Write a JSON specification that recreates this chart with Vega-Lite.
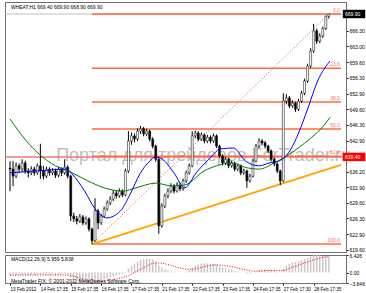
{
 "$schema": "https://vega.github.io/schema/vega-lite/v6.json",
 "padding": {"left": 3, "top": 1, "right": 0, "bottom": 0},
 "background": "white",
 "spacing": 3,
 "bounds": "flush",
 "config": {
  "view": {"stroke": "#707070"},
  "axis": {"labelFont": "Liberation Sans", "labelFontSize": 5, "labelColor": "#000", "domainColor": "#707070", "tickColor": "#000", "tickSize": 2, "grid": false, "labelPadding": 1},
  "text": {"font": "Liberation Sans"}
 },
 "datasets": {
  "bars": [
{"i":0,"o":637.0,"h":638.5,"l":632.1,"c":636.8,"m":-1.2},
{"i":1,"o":636.8,"h":638.5,"l":633.2,"c":635.3,"m":-1.0},
{"i":2,"o":635.3,"h":638.2,"l":634.9,"c":637.5,"m":-1.1},
{"i":3,"o":637.5,"h":638.0,"l":636.0,"c":636.8,"m":-0.9},
{"i":4,"o":636.8,"h":638.9,"l":636.2,"c":638.1,"m":-0.8},
{"i":5,"o":638.1,"h":638.6,"l":635.8,"c":636.4,"m":-1.0},
{"i":6,"o":636.4,"h":637.0,"l":635.0,"c":636.0,"m":-1.1},
{"i":7,"o":636.0,"h":637.4,"l":635.5,"c":636.8,"m":-0.9},
{"i":8,"o":636.8,"h":637.3,"l":635.4,"c":636.0,"m":-1.0},
{"i":9,"o":636.0,"h":638.0,"l":635.6,"c":637.5,"m":-0.8},
{"i":10,"o":637.5,"h":642.2,"l":634.7,"c":636.4,"m":-0.7},
{"i":11,"o":636.4,"h":637.5,"l":634.6,"c":635.3,"m":-0.9},
{"i":12,"o":635.3,"h":637.3,"l":634.9,"c":636.8,"m":-0.8},
{"i":13,"o":636.8,"h":637.2,"l":635.4,"c":636.0,"m":-0.9},
{"i":14,"o":636.0,"h":637.0,"l":635.5,"c":636.4,"m":-0.8},
{"i":15,"o":636.4,"h":636.9,"l":634.9,"c":635.5,"m":-0.9},
{"i":16,"o":635.5,"h":637.3,"l":635.1,"c":636.8,"m":-0.8},
{"i":17,"o":636.8,"h":637.2,"l":635.3,"c":636.0,"m":-0.7},
{"i":18,"o":636.0,"h":638.9,"l":635.6,"c":637.2,"m":-0.6},
{"i":19,"o":637.2,"h":637.6,"l":634.8,"c":635.3,"m":-0.8},
{"i":20,"o":635.3,"h":635.6,"l":625.7,"c":626.8,"m":-1.8},
{"i":21,"o":626.8,"h":627.5,"l":625.5,"c":626.2,"m":-2.6},
{"i":22,"o":626.2,"h":626.8,"l":625.0,"c":625.7,"m":-3.1},
{"i":23,"o":625.7,"h":627.2,"l":625.3,"c":626.6,"m":-3.4},
{"i":24,"o":626.6,"h":627.0,"l":624.8,"c":625.3,"m":-3.6},
{"i":25,"o":625.3,"h":626.7,"l":624.9,"c":626.2,"m":-3.7},
{"i":26,"o":626.2,"h":626.5,"l":623.5,"c":624.0,"m":-3.8},
{"i":27,"o":624.0,"h":624.3,"l":620.8,"c":621.5,"m":-3.8},
{"i":28,"o":621.5,"h":630.6,"l":621.3,"c":627.9,"m":-3.4},
{"i":29,"o":627.9,"h":628.3,"l":624.0,"c":625.3,"m":-3.3},
{"i":30,"o":625.3,"h":627.3,"l":624.9,"c":626.8,"m":-3.0},
{"i":31,"o":626.8,"h":628.8,"l":626.4,"c":628.3,"m":-2.6},
{"i":32,"o":628.3,"h":630.1,"l":627.9,"c":629.6,"m":-2.2},
{"i":33,"o":629.6,"h":631.0,"l":629.1,"c":630.4,"m":-1.8},
{"i":34,"o":630.4,"h":632.3,"l":630.0,"c":631.7,"m":-1.4},
{"i":35,"o":631.7,"h":632.2,"l":630.5,"c":631.1,"m":-1.1},
{"i":36,"o":631.1,"h":632.7,"l":630.7,"c":632.1,"m":-0.8},
{"i":37,"o":632.1,"h":632.5,"l":630.8,"c":631.3,"m":-0.6},
{"i":38,"o":631.3,"h":636.9,"l":631.0,"c":636.4,"m":0.2},
{"i":39,"o":636.4,"h":644.9,"l":636.0,"c":642.8,"m":1.5},
{"i":40,"o":642.8,"h":644.6,"l":642.0,"c":643.9,"m":2.5},
{"i":41,"o":643.9,"h":644.4,"l":642.5,"c":643.2,"m":3.3},
{"i":42,"o":643.2,"h":645.5,"l":642.8,"c":644.9,"m":4.0},
{"i":43,"o":644.9,"h":646.0,"l":644.3,"c":645.4,"m":4.6},
{"i":44,"o":645.4,"h":645.8,"l":643.8,"c":644.3,"m":4.9},
{"i":45,"o":644.3,"h":645.4,"l":643.9,"c":644.9,"m":5.1},
{"i":46,"o":644.9,"h":645.2,"l":642.7,"c":643.2,"m":5.0},
{"i":47,"o":643.2,"h":643.6,"l":641.2,"c":641.7,"m":4.7},
{"i":48,"o":641.7,"h":642.0,"l":638.4,"c":638.9,"m":4.1},
{"i":49,"o":638.9,"h":639.2,"l":623.0,"c":624.7,"m":2.6},
{"i":50,"o":624.7,"h":629.5,"l":624.3,"c":628.9,"m":1.8},
{"i":51,"o":628.9,"h":631.6,"l":628.5,"c":631.1,"m":1.2},
{"i":52,"o":631.1,"h":632.7,"l":630.6,"c":632.1,"m":0.7},
{"i":53,"o":632.1,"h":633.8,"l":631.7,"c":633.2,"m":0.4},
{"i":54,"o":633.2,"h":633.6,"l":631.6,"c":632.1,"m":0.1},
{"i":55,"o":632.1,"h":634.0,"l":631.8,"c":633.4,"m":0.0},
{"i":56,"o":633.4,"h":633.9,"l":632.1,"c":632.6,"m":-0.1},
{"i":57,"o":632.6,"h":634.8,"l":632.2,"c":634.3,"m":0.0},
{"i":58,"o":634.3,"h":636.5,"l":633.9,"c":636.0,"m":0.3},
{"i":59,"o":636.0,"h":638.0,"l":635.6,"c":637.5,"m":0.8},
{"i":60,"o":637.5,"h":644.9,"l":637.2,"c":643.9,"m":1.8},
{"i":61,"o":643.9,"h":645.0,"l":643.4,"c":644.5,"m":2.6},
{"i":62,"o":644.5,"h":644.9,"l":642.8,"c":643.2,"m":3.0},
{"i":63,"o":643.2,"h":644.6,"l":642.8,"c":644.1,"m":3.3},
{"i":64,"o":644.1,"h":644.4,"l":642.3,"c":642.8,"m":3.4},
{"i":65,"o":642.8,"h":644.1,"l":642.4,"c":643.6,"m":3.4},
{"i":66,"o":643.6,"h":644.0,"l":642.3,"c":642.8,"m":3.3},
{"i":67,"o":642.8,"h":644.4,"l":642.4,"c":643.9,"m":3.2},
{"i":68,"o":643.9,"h":644.2,"l":641.3,"c":641.7,"m":2.9},
{"i":69,"o":641.7,"h":642.0,"l":639.2,"c":639.6,"m":2.4},
{"i":70,"o":639.6,"h":640.0,"l":637.6,"c":638.1,"m":1.9},
{"i":71,"o":638.1,"h":639.4,"l":637.7,"c":638.9,"m":1.6},
{"i":72,"o":638.9,"h":639.2,"l":637.0,"c":637.5,"m":1.2},
{"i":73,"o":637.5,"h":638.6,"l":637.1,"c":638.1,"m":1.0},
{"i":74,"o":638.1,"h":638.4,"l":636.3,"c":636.8,"m":0.6},
{"i":75,"o":636.8,"h":637.9,"l":636.4,"c":637.5,"m":0.4},
{"i":76,"o":637.5,"h":637.8,"l":635.5,"c":636.0,"m":0.1},
{"i":77,"o":636.0,"h":636.9,"l":635.6,"c":636.4,"m":0.0},
{"i":78,"o":636.4,"h":636.7,"l":632.8,"c":634.3,"m":-0.4},
{"i":79,"o":634.3,"h":635.8,"l":633.9,"c":635.3,"m":-0.4},
{"i":80,"o":635.3,"h":639.0,"l":635.0,"c":638.5,"m":0.0},
{"i":81,"o":638.5,"h":642.2,"l":638.2,"c":641.7,"m":0.5},
{"i":82,"o":641.7,"h":643.4,"l":641.3,"c":642.8,"m":0.9},
{"i":83,"o":642.8,"h":643.2,"l":641.9,"c":642.4,"m":1.1},
{"i":84,"o":642.4,"h":642.8,"l":641.2,"c":641.7,"m":1.2},
{"i":85,"o":641.7,"h":642.0,"l":640.2,"c":640.7,"m":1.1},
{"i":86,"o":640.7,"h":641.0,"l":638.4,"c":638.9,"m":0.9},
{"i":87,"o":638.9,"h":639.3,"l":637.4,"c":637.9,"m":0.6},
{"i":88,"o":637.9,"h":638.2,"l":635.9,"c":636.4,"m":0.3},
{"i":89,"o":636.4,"h":636.7,"l":633.4,"c":634.3,"m":0.0},
{"i":90,"o":634.3,"h":653.0,"l":634.0,"c":651.3,"m":1.5},
{"i":91,"o":651.3,"h":652.8,"l":650.6,"c":652.0,"m":2.6},
{"i":92,"o":652.0,"h":652.4,"l":649.8,"c":650.3,"m":3.2},
{"i":93,"o":650.3,"h":651.5,"l":649.9,"c":650.9,"m":3.7},
{"i":94,"o":650.9,"h":651.2,"l":649.0,"c":649.6,"m":3.9},
{"i":95,"o":649.6,"h":651.8,"l":649.2,"c":651.3,"m":4.2},
{"i":96,"o":651.3,"h":653.5,"l":650.9,"c":653.0,"m":4.5},
{"i":97,"o":653.0,"h":656.1,"l":652.6,"c":655.6,"m":4.9},
{"i":98,"o":655.6,"h":659.3,"l":655.2,"c":658.8,"m":5.4},
{"i":99,"o":658.8,"h":662.6,"l":658.4,"c":662.0,"m":5.9},
{"i":100,"o":662.0,"h":667.8,"l":661.6,"c":666.3,"m":6.3},
{"i":101,"o":666.3,"h":666.8,"l":663.5,"c":664.1,"m":6.43},
{"i":102,"o":664.1,"h":665.8,"l":663.7,"c":665.2,"m":6.3},
{"i":103,"o":665.2,"h":667.2,"l":664.8,"c":666.8,"m":6.1},
{"i":104,"o":666.8,"h":669.6,"l":666.5,"c":669.4,"m":6.0},
{"i":105,"o":669.4,"h":669.9,"l":668.9,"c":669.9,"m":5.96}
  ],
  "blue": [
{"i":0,"p":636.0},{"i":8.6,"p":636.4},{"i":18.8,"p":636.8},{"i":20.4,"p":635.8},{"i":24.6,"p":632.1},{"i":27.8,"p":628.5},{"i":31.9,"p":626.4},{"i":36.4,"p":627.9},{"i":39.6,"p":631.5},{"i":42.8,"p":635.8},{"i":46,"p":638.5},{"i":47.9,"p":639.4},{"i":50.2,"p":638.9},{"i":54,"p":636.0},{"i":57.5,"p":632.8},{"i":61.3,"p":636.0},{"i":65.5,"p":638.9},{"i":69.3,"p":641.1},{"i":73.5,"p":641.3},{"i":77.6,"p":638.5},{"i":82.1,"p":637.5},{"i":85.3,"p":638.1},{"i":88.5,"p":638.5},{"i":92.7,"p":641.3},{"i":94.9,"p":644.3},{"i":98.1,"p":649.8},{"i":101.3,"p":655.6},{"i":105.4,"p":659.9}
  ],
  "green": [
{"i":0,"p":647.5},{"i":5.4,"p":642.8},{"i":9.6,"p":640.0},{"i":15,"p":637.5},{"i":19.2,"p":636.4},{"i":25.6,"p":634.3},{"i":31,"p":632.8},{"i":37.4,"p":632.1},{"i":41.5,"p":632.8},{"i":47.9,"p":633.8},{"i":53.4,"p":633.2},{"i":57.5,"p":633.4},{"i":63.9,"p":636.4},{"i":68,"p":637.5},{"i":73.5,"p":638.1},{"i":77.3,"p":637.2},{"i":82.1,"p":636.8},{"i":86.9,"p":638.1},{"i":90.1,"p":639.2},{"i":94.9,"p":641.3},{"i":99,"p":643.4},{"i":103.5,"p":646.2},{"i":105.4,"p":647.9}
  ],
  "signal": [
{"i":0,"v":-1.0},{"i":8,"v":-0.9},{"i":16,"v":-0.9},{"i":20,"v":-1.1},{"i":22,"v":-1.7},{"i":24,"v":-2.3},{"i":26,"v":-2.8},{"i":28,"v":-3.2},{"i":30,"v":-3.3},{"i":32,"v":-3.0},{"i":34,"v":-2.6},{"i":36,"v":-2.1},{"i":38,"v":-1.5},{"i":40,"v":-0.6},{"i":42,"v":0.6},{"i":44,"v":1.8},{"i":46,"v":2.9},{"i":48,"v":3.5},{"i":50,"v":3.4},{"i":52,"v":2.9},{"i":54,"v":2.3},{"i":56,"v":1.7},{"i":58,"v":1.2},{"i":60,"v":1.2},{"i":62,"v":1.6},{"i":64,"v":2.2},{"i":66,"v":2.6},{"i":68,"v":2.8},{"i":70,"v":2.6},{"i":72,"v":2.3},{"i":74,"v":1.9},{"i":76,"v":1.4},{"i":78,"v":0.9},{"i":80,"v":0.5},{"i":82,"v":0.5},{"i":84,"v":0.7},{"i":86,"v":0.8},{"i":88,"v":0.7},{"i":90,"v":0.7},{"i":92,"v":1.5},{"i":94,"v":2.3},{"i":96,"v":3.1},{"i":98,"v":3.9},{"i":100,"v":4.7},{"i":102,"v":5.3},{"i":104,"v":5.7},{"i":105,"v":5.84}
  ],
  "fib": [
{"name":"0.0","p":669.9,"t0":27,"t1":109},{"name":"23.6","p":658.31,"t0":27,"t1":109},{"name":"38.2","p":651.14,"t0":27,"t1":109},{"name":"50.0","p":645.35,"t0":27,"t1":109},{"name":"61.8","p":639.56,"t0":27,"t1":109},{"name":"100.0","p":620.8,"t0":27,"t1":109}
  ]
 },
 "vconcat": [
  {
   "width": 341,
   "height": 250,
   "resolve": {"axis": {"x": "independent", "y": "independent"}},
   "layer": [
    {
     "data": {"values": [{"t": "Портал для трейдеров ForTrader.ru", "i": 15.2, "p": 639.6}]},
     "mark": {"type": "text", "fontSize": 18, "color": "#808080", "opacity": 0.5, "align": "left", "baseline": "middle", "clip": false},
     "encoding": {
      "x": {"field": "i", "type": "quantitative", "scale": {"domain": [0, 109], "nice": false, "zero": false}, "axis": null},
      "y": {"field": "p", "type": "quantitative", "scale": {"domain": [619.11, 672.46], "nice": false, "zero": false},
            "axis": {"orient": "right", "title": null, "values": [619.6, 622.9, 626.3, 629.6, 632.9, 636.2, 642.9, 646.3, 649.6, 652.9, 656.3, 659.6, 663.0, 666.3], "format": ".2f"}},
      "text": {"field": "t"}
     }
    },
    {
     "data": {"values": [{"p": 639.4}]},
     "mark": {"type": "rule", "color": "#f08080", "strokeWidth": 2, "opacity": 0.8},
     "encoding": {"y": {"field": "p", "type": "quantitative", "axis": null}}
    },
    {
     "data": {"values": [{"p": 669.9}]},
     "mark": {"type": "rule", "color": "#c0c0c0", "strokeWidth": 1},
     "encoding": {"y": {"field": "p", "type": "quantitative", "axis": null}}
    },
    {
     "data": {"name": "fib"},
     "mark": {"type": "rule", "color": "#ff6a3d", "strokeWidth": 1.5},
     "encoding": {
      "x": {"field": "t0", "type": "quantitative", "axis": null},
      "x2": {"field": "t1"},
      "y": {"field": "p", "type": "quantitative", "axis": null}
     }
    },
    {
     "data": {"name": "fib"},
     "mark": {"type": "text", "color": "#ff7050", "fontSize": 5, "align": "right", "baseline": "bottom", "dx": -1, "dy": -1},
     "encoding": {
      "x": {"field": "t1", "type": "quantitative", "axis": null},
      "y": {"field": "p", "type": "quantitative", "axis": null},
      "text": {"field": "name"}
     }
    },
    {
     "data": {"values": [{"i": 27, "p": 620.8}, {"i": 105, "p": 669.9}]},
     "mark": {"type": "line", "color": "#ff4040", "strokeWidth": 1, "strokeDash": [1, 2]},
     "encoding": {
      "x": {"field": "i", "type": "quantitative", "axis": null},
      "y": {"field": "p", "type": "quantitative", "axis": null}
     }
    },
    {
     "data": {"values": [{"i": 27, "p": 620.8}, {"i": 109, "p": 637.7}]},
     "mark": {"type": "line", "color": "#ffa500", "strokeWidth": 2},
     "encoding": {
      "x": {"field": "i", "type": "quantitative", "axis": null},
      "y": {"field": "p", "type": "quantitative", "axis": null}
     }
    },
    {
     "data": {"name": "bars"},
     "mark": {"type": "rule", "color": "#000", "strokeWidth": 1},
     "encoding": {
      "x": {"field": "i", "type": "quantitative", "axis": null},
      "y": {"field": "l", "type": "quantitative", "axis": null},
      "y2": {"field": "h"}
     }
    },
    {
     "data": {"name": "bars"},
     "mark": {"type": "bar", "size": 2, "stroke": "#000", "strokeWidth": 0.5},
     "encoding": {
      "x": {"field": "i", "type": "quantitative", "axis": null},
      "y": {"field": "o", "type": "quantitative", "axis": null},
      "y2": {"field": "c"},
      "color": {"condition": {"test": "datum.c >= datum.o", "value": "#ffffff"}, "value": "#000000"}
     }
    },
    {
     "data": {"name": "green"},
     "mark": {"type": "line", "color": "#008000", "strokeWidth": 1, "interpolate": "monotone"},
     "encoding": {
      "x": {"field": "i", "type": "quantitative", "axis": null},
      "y": {"field": "p", "type": "quantitative", "axis": null}
     }
    },
    {
     "data": {"name": "blue"},
     "mark": {"type": "line", "color": "#0000ff", "strokeWidth": 1, "interpolate": "monotone"},
     "encoding": {
      "x": {"field": "i", "type": "quantitative", "axis": null},
      "y": {"field": "p", "type": "quantitative", "axis": null}
     }
    },
    {
     "data": {"values": [{"t": "WHEAT,H1  669.40 669.90 668.90 669.90", "i": 0.3, "p": 671.4}]},
     "mark": {"type": "text", "fontSize": 5, "color": "#000", "align": "left", "baseline": "middle"},
     "encoding": {
      "x": {"field": "i", "type": "quantitative", "axis": null},
      "y": {"field": "p", "type": "quantitative", "axis": null},
      "text": {"field": "t"}
     }
    },
    {
     "data": {"values": [{"i0": 109.6, "i1": 117, "p0": 670.8, "p1": 669.0}]},
     "mark": {"type": "rect", "color": "#000", "clip": false},
     "encoding": {
      "x": {"field": "i0", "type": "quantitative", "axis": null},
      "x2": {"field": "i1"},
      "y": {"field": "p0", "type": "quantitative", "axis": null},
      "y2": {"field": "p1"}
     }
    },
    {
     "data": {"values": [{"i0": 109.6, "i1": 117, "p0": 640.3, "p1": 638.5}]},
     "mark": {"type": "rect", "color": "#ff0000", "clip": false},
     "encoding": {
      "x": {"field": "i0", "type": "quantitative", "axis": null},
      "x2": {"field": "i1"},
      "y": {"field": "p0", "type": "quantitative", "axis": null},
      "y2": {"field": "p1"}
     }
    },
    {
     "data": {"values": [{"i": 110.3, "p": 669.9, "t": "669.90"}, {"i": 110.3, "p": 639.4, "t": "639.40"}]},
     "mark": {"type": "text", "fontSize": 5, "color": "#fff", "align": "left", "baseline": "middle", "clip": false},
     "encoding": {
      "x": {"field": "i", "type": "quantitative", "axis": null},
      "y": {"field": "p", "type": "quantitative", "axis": null},
      "text": {"field": "t"}
     }
    }
   ]
  },
  {
   "width": 341,
   "height": 28,
   "resolve": {"axis": {"x": "independent", "y": "independent"}},
   "layer": [
    {
     "data": {"name": "bars"},
     "mark": {"type": "bar", "size": 1.5, "color": "#c8c8c8"},
     "encoding": {
      "x": {"field": "i", "type": "quantitative", "scale": {"domain": [0, 109], "nice": false, "zero": false},
            "axis": {"orient": "bottom", "title": null, "values": [0, 10, 20, 30, 40, 50, 60, 70, 80, 90, 100], "labelAlign": "left", "labelFontSize": 4.6, "labelOverlap": false, "labelFlush": false,
                     "labelExpr": "['13 Feb 2012','14 Feb 17:35','15 Feb 17:35','16 Feb 17:35','17 Feb 17:35','21 Feb 17:35','22 Feb 17:35','23 Feb 17:35','24 Feb 17:35','27 Feb 17:30','28 Feb 17:35'][round(datum.value/10)]"}},
      "y": {"field": "m", "type": "quantitative", "scale": {"domain": [-3.846, 6.426], "nice": false, "zero": false},
            "axis": {"orient": "right", "title": null, "values": [6.426, 0, -3.846], "labelExpr": "datum.value == 0 ? '0.00' : format(datum.value, '.3f')"}},
      "y2": {"datum": 0}
     }
    },
    {
     "data": {"name": "signal"},
     "mark": {"type": "line", "color": "#ff0000", "strokeWidth": 1, "strokeDash": [1, 1.5], "interpolate": "monotone"},
     "encoding": {
      "x": {"field": "i", "type": "quantitative", "axis": null},
      "y": {"field": "v", "type": "quantitative", "axis": null}
     }
    },
    {
     "data": {"values": [{"t": "MACD(12,26,9) 5.959 5.838", "i": 0.3, "v": 4.9}, {"t": "MetaTrader FIX, © 2001-2011 MetaQuotes Software Corp.", "i": 0.3, "v": -3.0}]},
     "mark": {"type": "text", "fontSize": 5, "color": "#000", "align": "left", "baseline": "middle"},
     "encoding": {
      "x": {"field": "i", "type": "quantitative", "axis": null},
      "y": {"field": "v", "type": "quantitative", "axis": null},
      "text": {"field": "t"}
     }
    }
   ]
  }
 ]
}
